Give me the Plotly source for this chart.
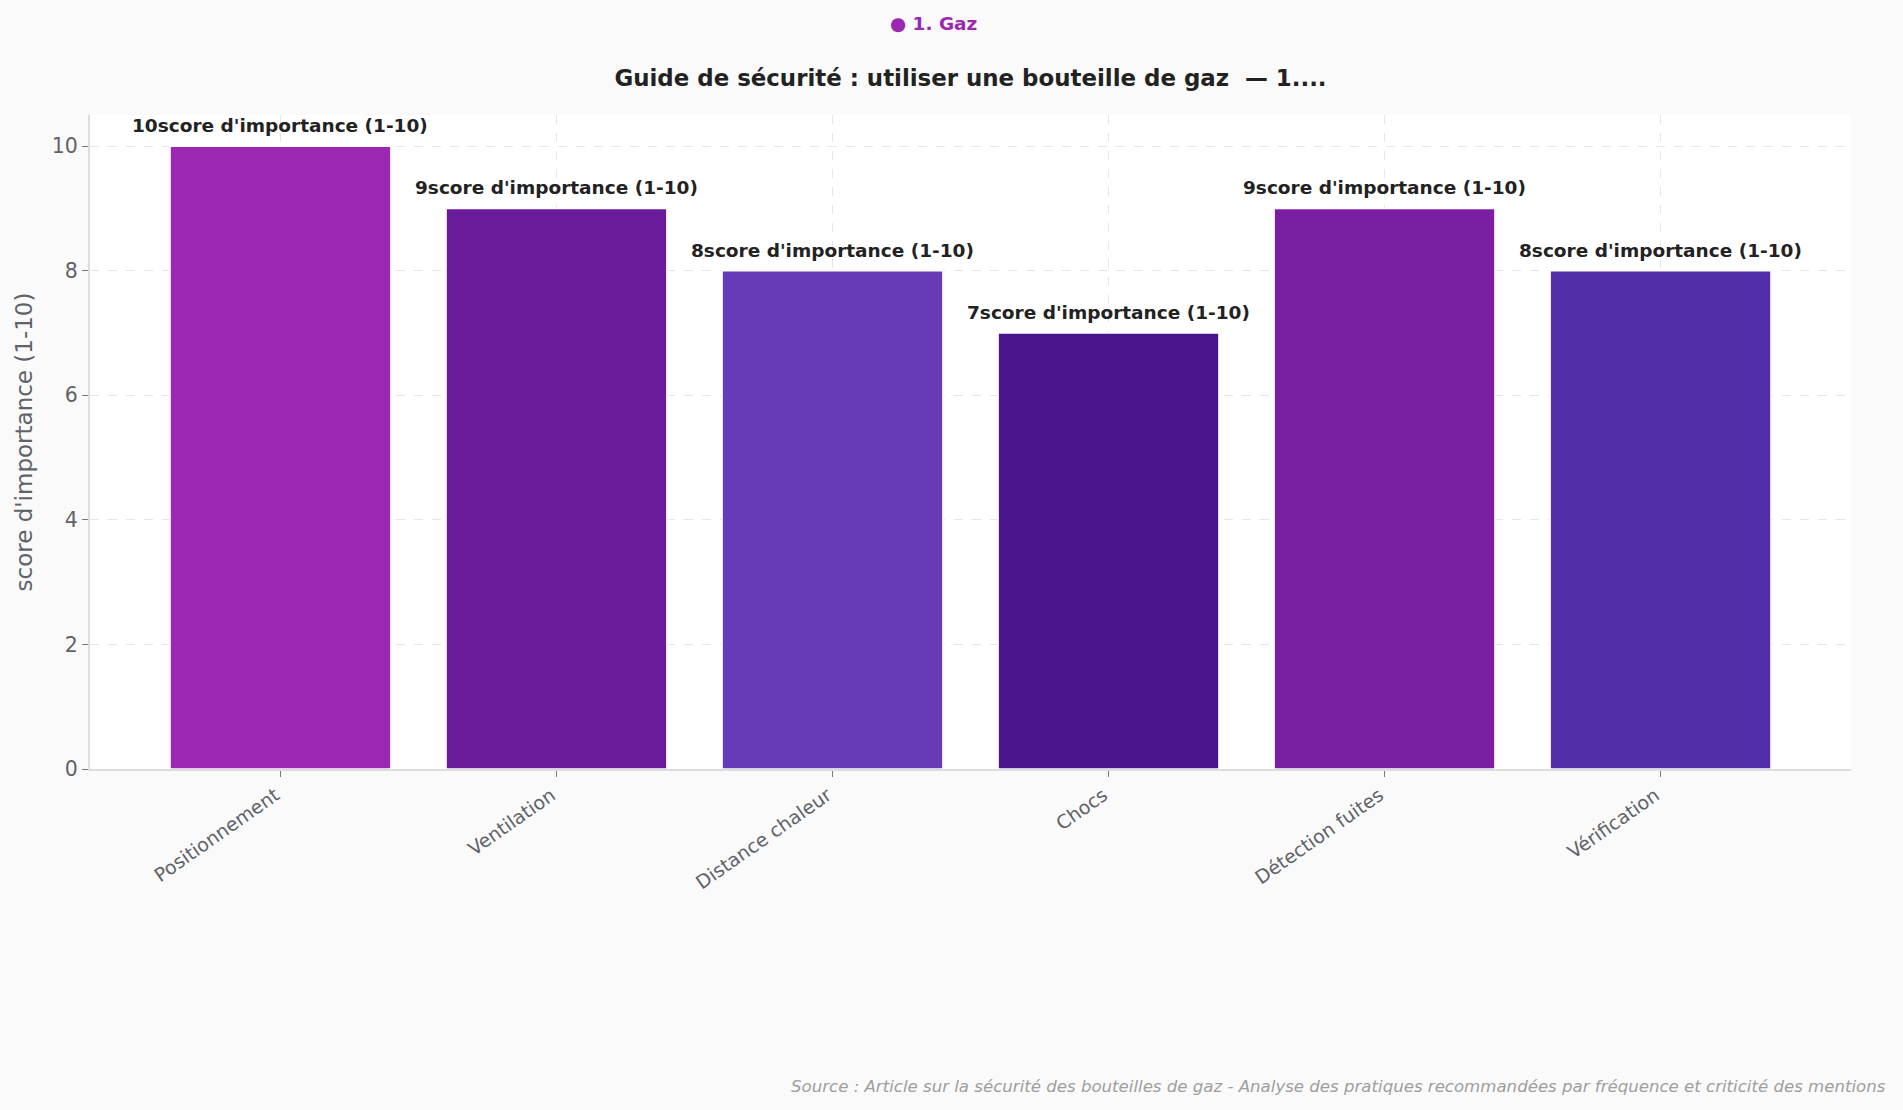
import plotly.graph_objects as go

categories = ["Positionnement", "Ventilation", "Distance chaleur", "Chocs", "Détection fuites", "Vérification"]
scores = [10, 9, 8, 7, 9, 8]
bar_colors = ["#9C27B0", "#6A1B9A", "#673AB7", "#4A148C", "#7B1FA2", "#512DA8"]
value_suffix = "score d'importance (1-10)"
y_ticks = [0, 2, 4, 6, 8, 10]

title_text = "Guide de sécurité : utiliser une bouteille de gaz  — 1...."
legend_text = "● 1. Gaz"
source_text = "Source : Article sur la sécurité des bouteilles de gaz - Analyse des pratiques recommandées par fréquence et criticité des mentions"

FONT = "DejaVu Sans"
W, H = 1903, 1110
ML, MR, MT, MB = 90, 52, 115, 341
plot_w = W - ML - MR
plot_h = H - MT - MB


def px_x(x):
    return (x - ML) / plot_w


def px_y(y):
    return (H - MB - y) / plot_h


fig = go.Figure()
fig.add_trace(go.Bar(
    x=categories,
    y=scores,
    marker=dict(color=bar_colors, line=dict(color="white", width=1.5)),
    showlegend=False,
    hovertemplate="%{x}: %{y}<extra></extra>",
))

annotations = []
for cat, val in zip(categories, scores):
    annotations.append(dict(
        x=cat, y=val, xref="x", yref="y",
        text=f"<b>{val}{value_suffix}</b>",
        showarrow=False, yanchor="bottom", xanchor="center", yshift=8,
        font=dict(family=FONT, size=18.5, color="#222222"),
    ))

annotations += [
    dict(text=f"<b>{legend_text}</b>", x=px_x(933), y=px_y(24), xref="paper", yref="paper",
         xanchor="center", yanchor="middle",
         showarrow=False, font=dict(family=FONT, size=18.5, color="#9C27B0")),
    dict(text=f"<i>{source_text}</i>", x=px_x(1888), y=px_y(1086), xref="paper", yref="paper",
         xanchor="right", yanchor="middle",
         showarrow=False, font=dict(family=FONT, size=16.6, color="#9E9E9E")),
]

fig.update_layout(
    width=W, height=H,
    paper_bgcolor="#FAFAFA",
    plot_bgcolor="#FFFFFF",
    margin=dict(l=ML, r=MR, t=MT, b=MB),
    bargap=0.2,
    font=dict(family=FONT, color="#555555"),
    title=dict(
        text=f"<b>{title_text}</b>",
        x=0.5, xref="paper", xanchor="center",
        y=1 - 78 / H, yref="container", yanchor="middle",
        font=dict(family=FONT, size=22.9, color="#222222"),
    ),
    xaxis=dict(
        range=[-0.69, 5.69],
        tickangle=-35,
        tickfont=dict(family=FONT, size=19, color="#5F6368"),
        ticklabelshift=-5,
        showgrid=True, gridcolor="#E6E6E6", griddash="dash",
        showline=True, linecolor="#DDDDDD", linewidth=2,
        ticks="outside", ticklen=6, tickcolor="#777777",
    ),
    yaxis=dict(
        range=[0, 10.5],
        tickvals=y_ticks,
        tickfont=dict(family=FONT, size=20.5, color="#5F6368"),
        title=dict(text="score d'importance (1-10)", font=dict(family=FONT, size=23, color="#5F6368"), standoff=13),
        showgrid=True, gridcolor="#E6E6E6", griddash="dash",
        showline=True, linecolor="#DDDDDD", linewidth=2,
        ticks="outside", ticklen=6, tickcolor="#777777",
        zeroline=False,
    ),
    annotations=annotations,
)

fig.write_html("out.html")
